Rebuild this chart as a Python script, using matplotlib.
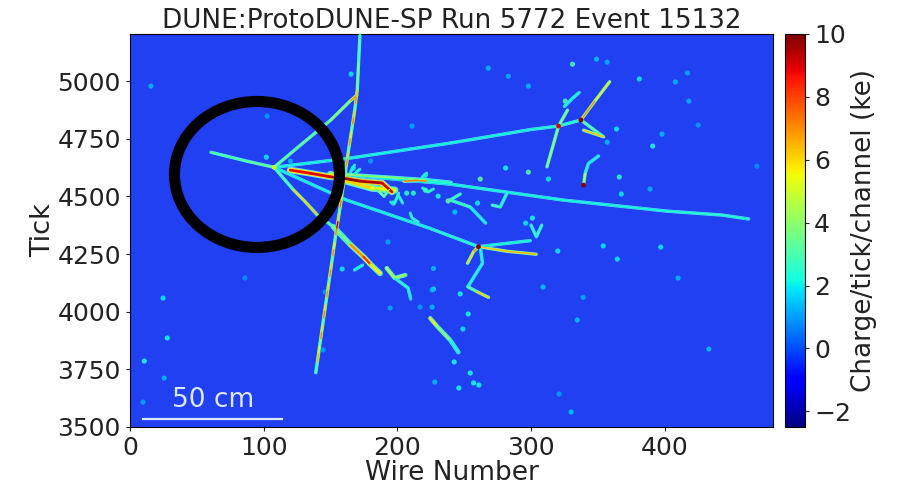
import matplotlib
matplotlib.use("Agg")
import matplotlib.pyplot as plt
import numpy as np
from matplotlib.cm import ScalarMappable
from matplotlib.collections import LineCollection
from matplotlib.colors import Normalize
from matplotlib.patches import Ellipse

WIRE_MAX = 481
TICK_MIN = 3500
TICK_MAX = 5204
CHARGE_MIN = -2.5
CHARGE_MAX = 10.0

tick_labels_y = [3500, 3750, 4000, 4250, 4500, 4750, 5000]
tick_labels_x = [0, 100, 200, 300, 400]
tick_labels_cbar = [-2, 0, 2, 4, 6, 8, 10]

# wire, tick, charge along each track
beam_wire = [60.6, 87.3, 107.8]
beam_tick = [4691, 4653, 4626]
beam_q = [2.6, 4.0, 3.4]

proton_up_wire = [107.8, 125, 150, 165, 169.7]
proton_up_tick = [4626, 4710, 4830, 4915, 4939]
proton_up_q = [3.6, 3.8, 3.8, 5.0, 9.0]

cosmic_wire = [172, 171.5, 171, 170.5, 170, 169.2, 168.7, 168, 167.2, 166.4, 165.6, 164.8, 164, 163.2, 162.5, 161.7, 161, 160.2,
               159.4, 158.6, 157.9, 157.1, 156.3, 155.5, 154.6, 153.8, 153.1, 152.3, 151.6, 150.8, 150.1, 149.3, 148.6,
               147.8, 147.1, 146.3, 145.6, 144.8, 144.1, 143.3, 142.6, 141.8, 141.1, 140.1, 139]
cosmic_tick = [5200, 5140, 5080, 5020, 4960, 4930, 4900, 4870, 4840, 4810, 4780, 4750, 4720, 4690, 4660, 4630, 4600, 4570,
               4540, 4510, 4480, 4450, 4420, 4390, 4360, 4330, 4300, 4270, 4240, 4210, 4180, 4150, 4120,
               4090, 4060, 4030, 4000, 3970, 3940, 3910, 3880, 3850, 3820, 3780, 3735]
cosmic_q = [3.2, 3.8, 2.8, 5.0, 3.0, 9.5, 4.8, 2.8, 9.5, 5.0, 2.6, 9.0, 5.2, 2.8, 9.5, 4.5, 2.6, 9.5,
            5.0, 2.6, 9.5, 5.5, 2.8, 9.5, 9.5, 5.0, 2.6, 9.0, 5.2, 2.6, 9.5, 5.0, 2.8,
            9.0, 5.2, 2.6, 9.5, 5.0, 2.8, 9.0, 5.4, 2.6, 8.5, 4.5, 2.2]

right_wire = [107.8, 164.7, 239.5, 300, 320.6, 337.3]
right_tick = [4626, 4666, 4731, 4790, 4805, 4831]
right_q = [2.4, 2.3, 2.3, 2.5, 2.6, 2.8]

long_wire = [164.7, 239.5, 324, 401.7, 442.9, 462.8]
long_tick = [4592, 4553, 4484, 4436, 4419, 4402]
long_q = [2.3, 2.3, 2.5, 2.3, 3.0, 2.3]

shower_wire = [119.8, 135, 149.7, 159.4, 172, 188.6, 196]
shower_tick = [4614, 4600, 4585, 4579, 4566, 4558, 4519]
shower_q = [8.0, 9.5, 8.5, 10.0, 9.5, 9.5, 8.5]

band_wire = [150, 161, 181, 198]
band_tick = [4595, 4568, 4536, 4527]
band_q = [5.5, 6.0, 6.0, 5.0]

upper_wire = [160, 202, 222, 240]
upper_tick = [4595, 4579, 4571, 4560]
upper_q = [4.0, 4.0, 3.2, 2.4]

red_spot_wire = [205, 214.6, 222]
red_spot_tick = [4566, 4569, 4566]
red_spot_q = [6.0, 8.5, 6.0]

pion_wire = [107.8, 162, 224.5, 260.7]
pion_tick = [4626, 4484, 4361, 4282]
pion_q = [2.3, 2.3, 2.4, 2.8]

diag_wire = [107.8, 122, 132.2, 140, 152.2]
diag_tick = [4626, 4530, 4470, 4420, 4368]
diag_q = [3.0, 3.6, 8.5, 4.0, 3.0]

diag_low_wire = [152.2, 165, 174.7, 180, 187.1]
diag_low_tick = [4368, 4290, 4238, 4205, 4166]
diag_low_q = [3.0, 4.5, 9.5, 7.0, 4.5]

b_up_wire = [260.7, 280, 299.4]
b_up_tick = [4282, 4295, 4308]
b_up_q = [2.4, 2.4, 2.6]

b_red_wire = [260.7, 282, 303.9]
b_red_tick = [4282, 4262, 4249]
b_red_q = [8.0, 4.5, 8.5]

b_left_wire = [260.7, 257, 252.5]
b_left_tick = [4282, 4260, 4210]
b_left_q = [9.0, 5.0, 7.0]

b_down_wire = [262, 263.7, 252.7, 259.5, 268.2]
b_down_tick = [4282, 4210, 4108, 4087, 4062]
b_down_q = [2.5, 2.4, 2.6, 4.5, 8.0]

c_up_wire = [337.3, 348, 358.8]
c_up_tick = [4831, 4915, 4997]
c_up_q = [9.5, 4.5, 7.0]

c_fork_wire = [337.3, 354.3, 339.3]
c_fork_tick = [4831, 4758, 4787]
c_fork_q = [2.8, 4.5, 8.0]

cross_wire = [327.3, 320.6, 311.9]
cross_tick = [4874, 4805, 4628]
cross_q = [2.4, 6.0, 2.6]

curve_wire = [350.5, 343, 340.5, 339.3]
curve_tick = [4675, 4643, 4600, 4549]
curve_q = [2.4, 2.4, 2.8, 7.0]

low_shower_wire = [224.6, 229.5, 239.5, 245.7]
low_shower_tick = [3972, 3938, 3877, 3824]
low_shower_q = [6.0, 5.5, 2.8, 2.4]

scrap_a_wire = [239.5, 254.5, 266]
scrap_a_tick = [4484, 4454, 4384]
scrap_a_q = [3.6, 2.4, 2.3]

scrap_b_wire = [271, 277, 282]
scrap_b_tick = [4462, 4454, 4514]
scrap_b_q = [3.0, 3.0, 2.3]

scrap_c_wire = [239.5, 247]
scrap_c_tick = [4484, 4510]
scrap_c_q = [3.6, 2.4]

fork_y_wire = [300, 304, 308]
fork_y_tick = [4375, 4325, 4375]
fork_y_q = [2.6, 3.0, 2.6]

tail_wire = [192, 198, 206]
tail_tick = [4189, 4146, 4159]
tail_q = [4.0, 5.5, 3.5]

tail_b_wire = [198, 208, 210]
tail_b_tick = [4146, 4103, 4055]
tail_b_q = [3.0, 2.4, 2.3]

side_wire = [168, 174]
side_tick = [4181, 4202]
side_q = [2.3, 2.6]

curl_wire = [325, 331, 336]
curl_tick = [4890, 4925, 4950]
curl_q = [2.3, 2.6, 2.3]

hook_a_wire = [165, 168]
hook_a_tick = [4606, 4636]
hook_a_q = [2.8, 2.3]

hook_b_wire = [168, 172]
hook_b_tick = [4597, 4618]
hook_b_q = [2.8, 2.3]

hook_c_wire = [195, 198, 201]
hook_c_tick = [4475, 4471, 4514]
hook_c_q = [2.3, 2.4, 3.0]

hook_d_wire = [200.6, 204]
hook_d_tick = [4506, 4471]
hook_d_q = [3.0, 2.3]

hook_e_wire = [218.6, 222]
hook_e_tick = [4584, 4601]
hook_e_q = [2.6, 2.3]

hook_f_wire = [219, 223, 227]
hook_f_tick = [4536, 4519, 4532]
hook_f_q = [3.0, 3.0, 2.4]

hook_g_wire = [209.6, 211, 215.6]
hook_g_tick = [4428, 4406, 4389]
hook_g_q = [2.3, 3.0, 2.4]

hook_h_wire = [183, 190, 194]
hook_h_tick = [4540, 4500, 4530]
hook_h_q = [4.0, 3.5, 4.0]

# wire, tick, charge, width scale
tracks = [
    (long_wire, long_tick, long_q, 1), (right_wire, right_tick, right_q, 1), (pion_wire, pion_tick, pion_q, 1),
    (beam_wire, beam_tick, beam_q, 1), (proton_up_wire, proton_up_tick, proton_up_q, 1), (diag_wire, diag_tick, diag_q, 1),
    (diag_low_wire, diag_low_tick, diag_low_q, 1.7), (upper_wire, upper_tick, upper_q, 1.2), (band_wire, band_tick, band_q, 2.2),
    (shower_wire, shower_tick, shower_q, 2.0), (red_spot_wire, red_spot_tick, red_spot_q, 1.1),
    (b_up_wire, b_up_tick, b_up_q, 1), (b_red_wire, b_red_tick, b_red_q, 1), (b_left_wire, b_left_tick, b_left_q, 1),
    (b_down_wire, b_down_tick, b_down_q, 1), (c_up_wire, c_up_tick, c_up_q, 1), (c_fork_wire, c_fork_tick, c_fork_q, 1),
    (cross_wire, cross_tick, cross_q, 1), (curve_wire, curve_tick, curve_q, 1), (low_shower_wire, low_shower_tick, low_shower_q, 1.3),
    (scrap_a_wire, scrap_a_tick, scrap_a_q, 1), (scrap_b_wire, scrap_b_tick, scrap_b_q, 1), (scrap_c_wire, scrap_c_tick, scrap_c_q, 1),
    (fork_y_wire, fork_y_tick, fork_y_q, 1), (tail_wire, tail_tick, tail_q, 1.3), (tail_b_wire, tail_b_tick, tail_b_q, 1),
    (side_wire, side_tick, side_q, 1), (curl_wire, curl_tick, curl_q, 1),
    (hook_a_wire, hook_a_tick, hook_a_q, 0.9), (hook_b_wire, hook_b_tick, hook_b_q, 0.9), (hook_c_wire, hook_c_tick, hook_c_q, 0.9),
    (hook_d_wire, hook_d_tick, hook_d_q, 0.9), (hook_e_wire, hook_e_tick, hook_e_q, 0.9), (hook_f_wire, hook_f_tick, hook_f_q, 0.9),
    (hook_g_wire, hook_g_tick, hook_g_q, 0.9), (hook_h_wire, hook_h_tick, hook_h_q, 0.9),
    (cosmic_wire, cosmic_tick, cosmic_q, 1),
]

blob_wire = [268, 283, 298, 349, 357, 381, 408, 417, 418, 425, 364, 398, 391, 366, 367.5, 389, 357, 281, 298, 262, 313, 243,
             260, 296, 301, 469, 331, 320, 354, 364.5, 397, 410, 309, 339, 334.6, 433, 330, 321, 253, 249, 242.5, 254.5,
             257, 261, 246, 228, 227, 247, 24.7, 27.9, 10.7, 25.6, 158.7, 193, 226, 227, 194.6, 217, 226, 86, 9.7, 146,
             144.5, 15.7, 102.5, 102, 120, 165.4, 211, 180, 207, 212, 230.5, 238, 221, 197, 167, 221, 325.6]
blob_tick = [5056, 5021, 4978, 5095, 5082, 5009, 4996, 5035, 4913, 4809, 4792, 4770, 4718, 4584, 4510, 4532, 4735, 4623, 4605,
             4575, 4575, 4432, 4471, 4384, 4406, 4631, 5073, 4263, 4285, 4228, 4280, 4146, 4107, 4062, 3964, 3838, 3565,
             3643, 3990, 3925, 3782, 3734, 3691, 3682, 3669, 3695, 4098, 4077, 4059, 3886, 3786, 3712, 4185, 4302, 4094,
             4187, 4016, 4020, 4020, 4146, 3608, 4085, 3834, 4978, 4848, 4670, 4653, 5030, 4805, 4653, 4514, 4514, 4501,
             4480, 4527, 4471, 4622, 4592, 4913]
blob_q = [1.4, 1.3, 1.4, 1.5, 1.3, 2.0, 1.4, 1.2, 1.3, 1.1, 2.0, 1.4, 2.4, 2.6, 2.0, 1.3, 1.4, 2.2, 3.2, 3.4, 2.0, 1.6,
          2.0, 2.0, 2.2, 0.9, 3.0, 2.0, 2.0, 2.0, 2.0, 1.4, 1.6, 1.3, 1.6, 1.6, 1.6, 1.1, 2.2, 2.0, 2.2, 2.2,
          2.2, 2.2, 2.2, 1.4, 2.0, 2.2, 2.0, 2.2, 2.4, 1.4, 2.0, 1.2, 1.4, 1.4, 1.2, 1.1, 1.4, 0.9, 1.2, 1.1,
          1.1, 1.4, 1.1, 2.0, 1.4, 2.0, 1.2, 1.1, 2.6, 2.6, 2.2, 3.4, 3.0, 2.4, 2.0, 2.2, 3.0]

vertex_wire = [337.3, 320.6, 260.7, 107.8, 339.3]
vertex_tick = [4831, 4805, 4282, 4626, 4549]
vertex_q = [10, 9, 10, 5, 10]

ring_center = (95, 4595)
ring_size = (123.5, 633)

norm = Normalize(CHARGE_MIN, CHARGE_MAX)
cmap = plt.get_cmap("jet")


def draw_track(ax, wires, ticks, charges, width):
    # pale halo under the track, then two layers coloured by charge
    ax.plot(wires, ticks, color="#66dff0", lw=2.4 * width, solid_capstyle="round", zorder=2)
    pts = np.column_stack([wires, ticks])
    segs = np.stack([pts[:-1], pts[1:]], axis=1)
    seg_q = (np.array(charges[:-1]) + np.array(charges[1:])) / 2
    for scale, lw, z in [(0.65, 1.7, 3), (1.0, 1.0, 4)]:
        lc = LineCollection(segs, cmap=cmap, norm=norm, linewidths=lw * width, capstyle="round", zorder=z)
        lc.set_array(seg_q * scale)
        ax.add_collection(lc)


plt.rcParams["font.family"] = "DejaVu Sans"
fig = plt.figure(figsize=(8.97, 4.87), dpi=100)
ax = fig.add_axes([130 / 897, 60 / 487, 643 / 897, 393 / 487])
cax = fig.add_axes([785 / 897, 60 / 487, 20 / 897, 393 / 487])
ax.set_facecolor("#2040f2")

for wires, ticks, charges, width in tracks:
    draw_track(ax, wires, ticks, charges, width)
ax.scatter(blob_wire, blob_tick, c=blob_q, cmap=cmap, norm=norm, s=14, linewidths=0, alpha=0.85, zorder=2)
ax.scatter(vertex_wire, vertex_tick, c=vertex_q, cmap=cmap, norm=norm, s=12, linewidths=0, zorder=5)

ax.plot([9.7, 113.5], [3535, 3535], color="#dce8ff", lw=1.6, zorder=5)
ax.text(62, 3560, "50 cm", color="#dce8ff", fontsize=19, ha="center", va="bottom", zorder=5)
ax.add_patch(Ellipse(ring_center, ring_size[0], ring_size[1], fill=False, ec="black", lw=8, zorder=6))

ax.set_xlim(0, WIRE_MAX)
ax.set_ylim(TICK_MIN, TICK_MAX)
ax.set_xticks(tick_labels_x)
ax.set_yticks(tick_labels_y)
ax.tick_params(labelsize=18, length=3, colors="#222222")
ax.set_xlabel("Wire Number", fontsize=19, color="#222222", labelpad=0)
ax.set_ylabel("Tick", fontsize=19.5, color="#222222", labelpad=1)
ax.set_title("DUNE:ProtoDUNE-SP Run 5772 Event 15132", fontsize=18.9, color="#222222", pad=4)

cb = fig.colorbar(ScalarMappable(norm=norm, cmap=cmap), cax=cax)
cb.set_ticks(tick_labels_cbar)
cb.ax.tick_params(labelsize=18, length=3, colors="#222222")
cb.set_label("Charge/tick/channel (ke)", fontsize=18.9, color="#222222", labelpad=0)

fig.savefig("out.png", dpi=100)
